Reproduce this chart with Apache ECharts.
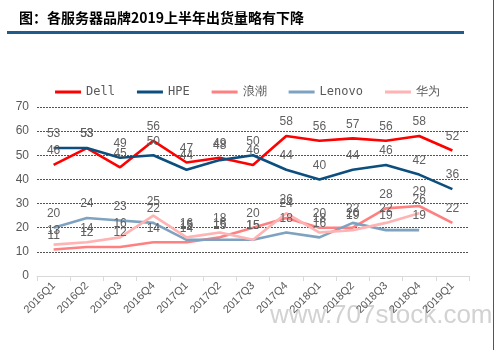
<!DOCTYPE html>
<html>
<head>
<meta charset="utf-8">
<script src="https://cdn.jsdelivr.net/npm/echarts@6/dist/echarts.min.js"></script>
<style>
  html, body { margin: 0; padding: 0; background: #fff; }
  #main { width: 495px; height: 350px; }
</style>
</head>
<body>
<div id="main"></div>
<script>
// 季度
var quarters = ['2016Q1', '2016Q2', '2016Q3', '2016Q4', '2017Q1', '2017Q2', '2017Q3',
    '2017Q4', '2018Q1', '2018Q2', '2018Q3', '2018Q4', '2019Q1'];
var brandNames = ['Dell', 'HPE', '浪潮', 'Lenovo', '华为'];
var dell = [46, 53, 45, 56, 47, 49, 46, 58, 56, 57, 56, 58, 52];
var hpe = [53, 53, 49, 50, 44, 48, 50, 44, 40, 44, 46, 42, 36];
var inspur = [11, 12, 12, 14, 14, 16, 20, 24, 20, 20, 28, 29, 22];
var lenovo = [20, 24, 23, 22, 15, 15, 15, 18, 16, 22, 19, 19, null];
var huawei = [13, 14, 16, 25, 16, 18, 15, 26, 18, 19, 22, 26, null];
var yTicks = [0, 10, 20, 30, 40, 50, 60, 70];

var colors = ['#ff0000', '#0c4f7e', '#ff8080', '#7ea2bf', '#ffb3b3'];
var seriesData = [dell, hpe, inspur, lenovo, huawei];

var myChart = echarts.init(document.getElementById('main'));

var series = seriesData.map(function (d, i) {
    return {
        name: brandNames[i],
        type: 'line',
        data: d,
        symbol: 'circle',
        symbolSize: 0.01,
        showSymbol: true,
        showAllSymbol: true,
        lineStyle: { width: 2.6, color: colors[i] },
        itemStyle: { color: colors[i] },
        label: {
            show: true,
            position: 'top',
            distance: 8,
            color: '#606060',
            fontSize: 12,
            fontFamily: 'Liberation Sans'
        },
        labelLayout: { hideOverlap: false }
    };
});

var option = {
    animation: false,
    color: colors,
    title: {
        text: '图：各服务器品牌2019上半年出货量略有下降',
        left: 14,
        top: 6,
        textStyle: {
            fontSize: 14,
            fontWeight: 'bold',
            color: '#000',
            fontFamily: 'Noto Sans CJK SC'
        }
    },
    graphic: [
        {
            type: 'rect',
            shape: { x: 7, y: 31, width: 457, height: 3 },
            style: { fill: '#1f5c8b' }
        },
        {
            type: 'rect',
            shape: { x: 493, y: 0, width: 1, height: 350 },
            style: { fill: '#555' }
        },
        {
            type: 'text',
            left: 270,
            top: 303,
            style: {
                text: 'www.707stock.com',
                fontSize: 26,
                fill: '#d2d2d2',
                fontFamily: 'Liberation Sans'
            }
        }
    ],
    legend: {
        data: brandNames,
        top: 81,
        left: 'center',
        itemWidth: 26,
        itemHeight: 3,
        itemGap: 22,
        icon: 'rect',
        textStyle: { color: '#595959', fontSize: 12, fontFamily: 'DejaVu Sans Mono' }
    },
    grid: {
        left: 37,
        right: 26,
        top: 107,
        bottom: 74
    },
    xAxis: {
        type: 'category',
        data: quarters,
        boundaryGap: true,
        axisLine: { lineStyle: { color: '#d9d9d9' } },
        axisTick: { show: true, alignWithLabel: false, lineStyle: { color: '#d9d9d9' } },
        axisLabel: {
            rotate: 45,
            interval: 0,
            color: '#595959',
            fontSize: 11,
            fontFamily: 'Liberation Sans'
        }
    },
    yAxis: {
        type: 'value',
        min: yTicks[0],
        max: yTicks[yTicks.length - 1],
        interval: 10,
        axisLine: { show: false },
        axisTick: { show: false },
        axisLabel: { color: '#595959', fontSize: 12, fontFamily: 'Liberation Sans', margin: 8 },
        splitLine: { lineStyle: { color: '#555', type: [2, 1], width: 1 } }
    },
    series: series
};
option && myChart.setOption(option);
</script>
</body>
</html>
